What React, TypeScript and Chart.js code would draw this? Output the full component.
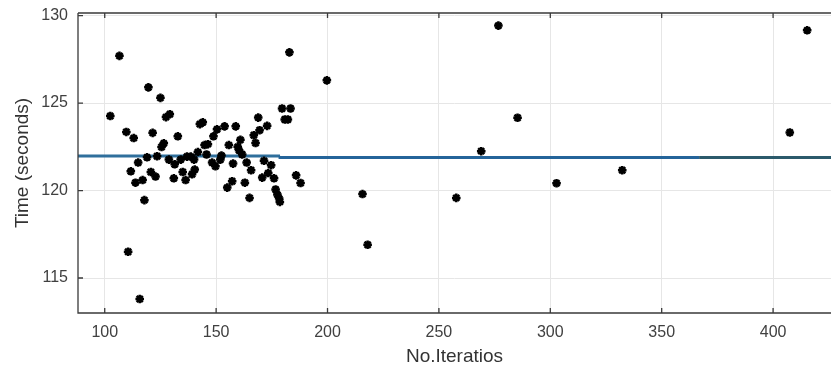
import React, { useEffect, useRef } from 'react';
import { Chart, registerables } from 'chart.js';

Chart.register(...registerables);

const iterations = [
  102.5, 106.6, 109.7, 110.5, 111.7, 113.0, 113.8, 115.0, 115.7, 117.0,
  117.8, 119.0, 119.6, 120.7, 121.5, 122.8, 123.5, 125.0, 125.5, 126.5,
  127.5, 128.8, 129.2, 131.0, 131.4, 132.8, 134.1, 135.0, 136.3, 136.9,
  138.6, 139.2, 140.1, 140.4, 141.8, 142.7, 144.0, 144.8, 145.7, 146.3,
  148.2, 148.8, 149.7, 150.4, 151.9, 152.4, 153.8, 155.0, 155.7, 157.2,
  157.6, 158.8, 159.7, 160.3, 160.9, 161.7, 162.9, 163.7, 165.0, 165.7,
  166.9, 167.7, 168.9, 169.5, 170.7, 171.5, 172.9, 173.4, 174.7, 176.0,
  176.7, 177.5, 178.3, 178.6, 179.6, 180.8, 182.2, 182.9, 183.4, 185.9,
  187.9, 199.7, 215.7, 218.0, 257.8, 269.0, 276.7, 285.3, 302.8, 332.3,
  407.5, 415.3,
];
const times = [
  124.26, 127.7, 123.35, 116.5, 121.1, 123.0, 120.45, 121.6, 113.8, 120.6,
  119.45, 121.9, 125.9, 121.06, 123.3, 120.8, 121.96, 125.3, 122.49, 122.7,
  124.2, 121.77, 124.36, 120.7, 121.5, 123.1, 121.77, 121.06, 120.6, 121.94,
  121.94, 120.93, 121.77, 121.2, 122.2, 123.8, 123.9, 122.6, 122.06, 122.65,
  121.6, 123.1, 121.39, 123.5, 121.77, 122.0, 123.67, 120.17, 122.6, 120.53,
  121.54, 123.67, 122.5, 122.3, 122.9, 122.06, 120.45, 121.6, 119.58, 121.16,
  123.16, 122.72, 124.17, 123.45, 120.74, 121.7, 123.7, 121.0, 121.45, 120.7,
  120.06, 119.77, 119.54, 119.35, 124.69, 124.06, 124.06, 127.9, 124.69, 120.87,
  120.43, 126.3, 119.8, 116.9, 119.58, 122.25, 129.43, 124.16, 120.42, 121.16,
  123.32, 129.16,
];

const stepX = [88, 178.7, 366.8, 426];
const stepY = [122.06, 121.97, 121.89, 121.89];
const stepColors = ['#2f6f9c', '#24649a', '#2b5a6b'];

const xTicks = [100, 150, 200, 250, 300, 350, 400];
const yTicks = [115, 120, 125, 130];

const X_MIN = 88;
const X_MAX = 426;
const Y_MIN = 113;
const Y_MAX = 130.15;

const boxPlugin = {
  id: 'matlabBox',
  afterDatasetsDraw(chart: any) {
    const { ctx, chartArea } = chart;
    const xs = chart.scales.x;
    const ys = chart.scales.y;
    const { left, right, top, bottom } = chartArea;
    ctx.save();
    ctx.strokeStyle = '#3a3a3a';
    ctx.lineWidth = 1.3;
    ctx.beginPath();
    ctx.moveTo(left, top);
    ctx.lineTo(right, top);
    ctx.moveTo(left, top);
    ctx.lineTo(left, bottom);
    ctx.lineTo(right, bottom);
    const tl = 5;
    xTicks.forEach((v) => {
      const px = xs.getPixelForValue(v);
      ctx.moveTo(px, bottom);
      ctx.lineTo(px, bottom - tl);
      ctx.moveTo(px, top);
      ctx.lineTo(px, top + tl);
    });
    yTicks.forEach((v) => {
      const py = ys.getPixelForValue(v);
      ctx.moveTo(left, py);
      ctx.lineTo(left + tl, py);
    });
    ctx.stroke();
    ctx.restore();
  },
};

export default function App() {
  const ref = useRef<HTMLCanvasElement | null>(null);

  useEffect(() => {
    document.body.style.margin = '0';
    if (!ref.current) return;
    const points = iterations.map((x, i) => ({ x, y: times[i] }));
    const steps = stepX.map((x, i) => ({ x, y: stepY[i] }));
    const font = 'Liberation Sans, Arial, Helvetica, sans-serif';
    const chart = new Chart(ref.current, {
      type: 'scatter',
      data: {
        datasets: [
          {
            type: 'line',
            data: steps,
            stepped: 'after',
            borderColor: stepColors[0],
            borderWidth: 3,
            pointRadius: 0,
            fill: false,
            order: 2,
            segment: {
              borderColor: (c: any) => stepColors[Math.min(c.p0DataIndex, stepColors.length - 1)],
            },
          } as any,
          {
            type: 'scatter',
            data: points,
            pointStyle: 'star',
            radius: 4.3,
            borderWidth: 2.5,
            borderColor: '#000000',
            backgroundColor: '#000000',
            order: 1,
          } as any,
        ],
      },
      options: {
        animation: false,
        responsive: false,
        maintainAspectRatio: false,
        layout: { autoPadding: false, padding: { top: 13, right: 0, left: 0, bottom: 0 } },
        plugins: {
          legend: { display: false },
          tooltip: { enabled: false },
        },
        scales: {
          x: {
            type: 'linear',
            min: X_MIN,
            max: X_MAX,
            afterFit: (s: any) => {
              s.height = 58;
              s.paddingLeft = 0;
              s.paddingRight = 0;
            },
            afterBuildTicks: (s: any) => {
              s.ticks = xTicks.map((v) => ({ value: v }));
            },
            grid: { color: '#e6e6e6', lineWidth: 1, drawTicks: false },
            border: { display: false },
            ticks: {
              autoSkip: false,
              maxRotation: 0,
              padding: 10,
              color: '#404040',
              font: { family: font, size: 16 },
            },
            title: {
              display: true,
              text: 'No.Iteratios',
              color: '#333333',
              font: { family: font, size: 19 },
              padding: { top: 0, bottom: 3 },
            },
          },
          y: {
            type: 'linear',
            min: Y_MIN,
            max: Y_MAX,
            afterFit: (s: any) => {
              s.width = 78;
              s.paddingTop = 0;
              s.paddingBottom = 0;
            },
            afterBuildTicks: (s: any) => {
              s.ticks = yTicks.map((v) => ({ value: v }));
            },
            grid: { color: '#e6e6e6', lineWidth: 1, drawTicks: false },
            border: { display: false },
            ticks: {
              padding: 10,
              color: '#404040',
              font: { family: font, size: 16 },
            },
            title: {
              display: true,
              text: 'Time (seconds)',
              color: '#333333',
              font: { family: font, size: 19 },
              padding: { top: 11, bottom: 0 },
            },
          },
        },
      },
      plugins: [boxPlugin],
    });
    return () => chart.destroy();
  }, []);

  return (
    <div style={{ width: 831, height: 371, background: '#ffffff' }}>
      <canvas ref={ref} width={831} height={371} style={{ display: 'block' }} />
    </div>
  );
}
